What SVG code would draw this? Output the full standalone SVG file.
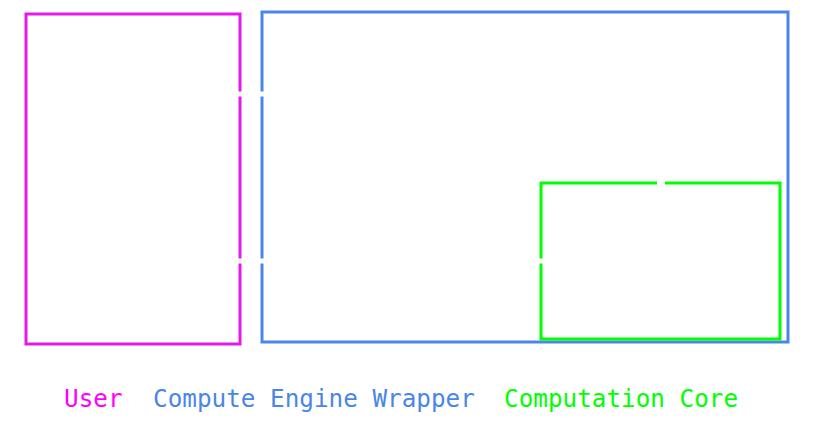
<svg xmlns="http://www.w3.org/2000/svg" width="816" height="432" viewBox="0 0 816 432">
<style>
.box{fill:none;stroke-width:3}
.lbl{font-family:"DejaVu Sans Mono","Liberation Mono",monospace;font-size:24.3px}
.gap{stroke:#ffffff;stroke-width:5;fill:none}
</style>
<rect width="816" height="432" fill="#ffffff"/>
<g id="user"><rect class="box" x="26" y="14" width="214" height="330" stroke="#e619e6"/></g>
<g id="wrapper"><rect class="box" x="262" y="12" width="526" height="330" stroke="#4a86e8"/></g>
<g id="core"><rect class="box" x="541" y="183" width="239" height="156" stroke="#00ff00"/></g>
<g id="connectors">
<line class="gap" x1="237" y1="94" x2="265" y2="94"/>
<line class="gap" x1="237" y1="261" x2="544" y2="261"/>
<line class="gap" x1="657" y1="183" x2="665" y2="183" stroke-width="6"/>
</g>
<g id="legend">
<text class="lbl" x="64" y="407" fill="#ff00ff">User</text>
<text class="lbl" x="153" y="407" fill="#4a86e8">Compute Engine Wrapper</text>
<text class="lbl" x="504" y="407" fill="#00ff00">Computation Core</text>
</g>
</svg>
